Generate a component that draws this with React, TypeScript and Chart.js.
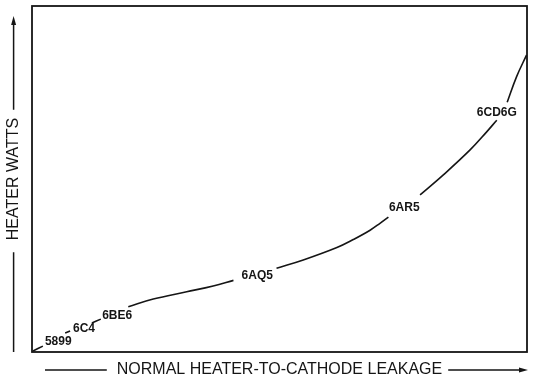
import React, { useEffect, useRef } from "react";
import { Chart, registerables } from "chart.js";

Chart.register(...registerables);

const xTitle = "NORMAL HEATER-TO-CATHODE LEAKAGE";
const yTitle = "HEATER WATTS";

// Curve traced in relative units (0-100); null breaks the line where a tube label sits
const leakage = [0.2, 2.2, null, 6.7, 7.7, null, 12.1, 13.9, null, 19.45, 24.5, 31.25, 36.6, 40.7, null, 49.4, 54.8, 61.6, 64.9, 68.3, 70.3, 72.0, null, 78.4, 83.1, 88.5, 91.9, 93.9, null, 96.0, 97.9, 99.9];
const watts = [0.3, 1.7, null, 5.5, 6.1, null, 8.4, 9.5, null, 13.1, 15.3, 17.4, 19.1, 20.7, null, 24.2, 26.6, 30.2, 32.5, 35.2, 37.2, 39.0, null, 45.4, 51.2, 58.4, 63.7, 67.0, null, 72.2, 79.6, 85.8];

const tubes = ["5899", "6C4", "6BE6", "6AQ5", "6AR5", "6CD6G"];
const tubeLeakage = [5.3, 10.5, 17.2, 45.5, 75.2, 93.9];
const tubeWatts = [2.9, 6.7, 10.4, 22.0, 41.6, 69.1];

const INK = "#151515";
const TITLE_FONT = '16px "Liberation Sans", Arial, sans-serif';

const decorPlugin = {
  id: "decor",
  afterDraw(chart: any) {
    const { ctx, chartArea } = chart;
    const { left, right, top, bottom } = chartArea;
    const xs = chart.scales.x;
    const ys = chart.scales.y;
    ctx.save();
    ctx.strokeStyle = INK;
    ctx.fillStyle = INK;
    // frame
    ctx.lineWidth = 1.8;
    ctx.strokeRect(left, top, right - left, bottom - top);

    // tube labels on the curve
    ctx.font = 'bold 12px "Liberation Sans", Arial, sans-serif';
    ctx.textAlign = "center";
    ctx.textBaseline = "middle";
    tubes.forEach((t, i) => {
      ctx.fillText(t, xs.getPixelForValue(tubeLeakage[i]), ys.getPixelForValue(tubeWatts[i]));
    });

    // arrows beside axis titles
    ctx.font = TITLE_FONT;
    ctx.lineWidth = 1.5;
    const wx = ctx.measureText(xTitle).width;
    const cx = (xs.left + xs.right) / 2;
    const cy = xs.bottom - 22;
    ctx.beginPath();
    ctx.moveTo(left + 13, cy);
    ctx.lineTo(cx - wx / 2 - 10, cy);
    ctx.moveTo(cx + wx / 2 + 6, cy);
    ctx.lineTo(right - 6, cy);
    ctx.stroke();
    ctx.beginPath();
    ctx.moveTo(right + 1, cy);
    ctx.lineTo(right - 8, cy - 2.5);
    ctx.lineTo(right - 8, cy + 2.5);
    ctx.closePath();
    ctx.fill();

    const wy = ctx.measureText(yTitle).width;
    const ycx = ys.left + 13.6;
    const ycy = (ys.top + ys.bottom) / 2;
    ctx.beginPath();
    ctx.moveTo(ycx, ycy - wy / 2 - 8);
    ctx.lineTo(ycx, top + 18);
    ctx.moveTo(ycx, ycy + wy / 2 + 12);
    ctx.lineTo(ycx, bottom);
    ctx.stroke();
    ctx.beginPath();
    ctx.moveTo(ycx, top + 10);
    ctx.lineTo(ycx - 2.5, top + 19);
    ctx.lineTo(ycx + 2.5, top + 19);
    ctx.closePath();
    ctx.fill();
    ctx.restore();
  },
};

export default function App() {
  const ref = useRef<HTMLCanvasElement | null>(null);
  useEffect(() => {
    if (!ref.current) return;
    let lastX = 0;
    const points = leakage.map((x, i) => {
      if (x !== null) lastX = x;
      return { x: x === null ? lastX : x, y: watts[i] };
    });
    const chart = new Chart(ref.current, {
      type: "line",
      data: {
        datasets: [
          {
            data: points as any,
            borderColor: INK,
            borderWidth: 1.6,
            pointRadius: 0,
            tension: 0.4,
            spanGaps: false,
            fill: false,
          },
        ],
      },
      options: {
        animation: false,
        responsive: true,
        maintainAspectRatio: false,
        layout: { padding: { top: 6, right: 14, left: 0, bottom: 0 } },
        plugins: { legend: { display: false }, tooltip: { enabled: false } },
        scales: {
          x: {
            type: "linear",
            min: 0,
            max: 100,
            grid: { display: false },
            border: { display: false },
            ticks: { display: false },
            title: {
              display: true,
              text: xTitle,
              color: INK,
              font: { family: '"Liberation Sans", Arial, sans-serif', size: 16 },
              padding: { top: 0, bottom: 12.4 },
            },
            afterFit: (s: any) => {
              s.height = 40;
            },
          },
          y: {
            type: "linear",
            min: 0,
            max: 100,
            grid: { display: false },
            border: { display: false },
            ticks: { display: false },
            title: {
              display: true,
              text: yTitle,
              color: INK,
              font: { family: '"Liberation Sans", Arial, sans-serif', size: 16 },
              padding: { top: 4, bottom: 0 },
            },
            afterFit: (s: any) => {
              s.width = 32;
            },
          },
        },
      },
      plugins: [decorPlugin],
    });
    return () => chart.destroy();
  }, []);
  return (
    <div style={{ position: "fixed", left: 0, top: 0, width: 541, height: 392, background: "#fff" }}>
      <canvas ref={ref} />
    </div>
  );
}
